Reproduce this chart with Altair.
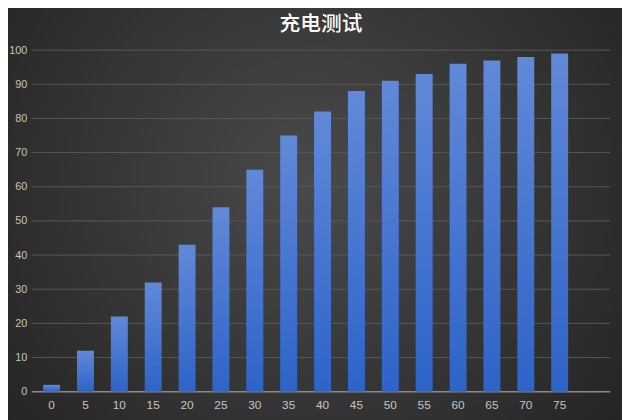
import altair as alt
import pandas as pd

minutes = ["0", "5", "10", "15", "20", "25", "30", "35", "40", "45", "50", "55", "60", "65", "70", "75"]
charge = [2, 12, 22, 32, 43, 54, 65, 75, 82, 88, 91, 93, 96, 97, 98, 99]
grid_ticks = [10, 20, 30, 40, 50, 60, 70, 80, 90, 100]

W, H = 586, 346

df = pd.DataFrame({"t": minutes, "v": charge})
gdf = pd.DataFrame({"g": grid_ticks})
one = pd.DataFrame({"a": [0]})

bg = alt.Chart(one).mark_rect(
    fill={"gradient": "radial", "x1": 0.5, "y1": 0.45, "r1": 0, "x2": 0.5, "y2": 0.45, "r2": 0.75,
          "stops": [{"offset": 0, "color": "#4a4a4a"}, {"offset": 1, "color": "#1c1c1c"}]}
).encode(x=alt.value(-40), x2=alt.value(W + 20), y=alt.value(-50), y2=alt.value(H + 40))

yscale = alt.Scale(domain=[0, 100])
yaxis = alt.Axis(title=None, values=[0] + grid_ticks, ticks=False, domain=False, grid=False,
                 labelColor="#c4c4c4", labelFontSize=11, labelFont="Liberation Sans",
                 labelPadding=5, zindex=2)

grid = alt.Chart(gdf).mark_rule(color="#575757", strokeWidth=1).encode(
    y=alt.Y("g:Q", scale=yscale, axis=yaxis),
    x=alt.value(0), x2=alt.value(W),
)

base = alt.Chart(one).mark_rule(color="#8a8a8a", strokeWidth=1.5).encode(
    y=alt.value(H),
    x=alt.value(0), x2=alt.value(W),
)

bars = alt.Chart(df).mark_bar(
    color={"gradient": "linear", "x1": 0, "y1": 0, "x2": 0, "y2": 1,
           "stops": [{"offset": 0, "color": "#6189d8"}, {"offset": 1, "color": "#2e63c8"}]}
).encode(
    x=alt.X("t:N", sort=minutes,
            scale=alt.Scale(range=[3, 552], paddingInner=0.5, paddingOuter=0.25),
            axis=alt.Axis(title=None, labelAngle=0, ticks=False, domain=False, grid=False,
                          labelColor="#c4c4c4", labelFontSize=12, labelFont="Liberation Sans",
                          labelPadding=8, zindex=2)),
    y=alt.Y("v:Q", scale=yscale, axis=yaxis),
)

chart = alt.layer(bg, grid, base, bars).properties(
    width=W, height=H,
    autosize="none",
    padding={"left": 24, "top": 40, "right": 12, "bottom": 26},
    background="#2c2c2c",
    title=alt.TitleParams("充电测试", color="#ffffff", fontSize=21, font="Noto Sans CJK SC",
                          fontWeight=500, offset=-35),
).configure_view(stroke=None)

chart.save("out.html", embed_options={"renderer": "svg", "actions": False})
